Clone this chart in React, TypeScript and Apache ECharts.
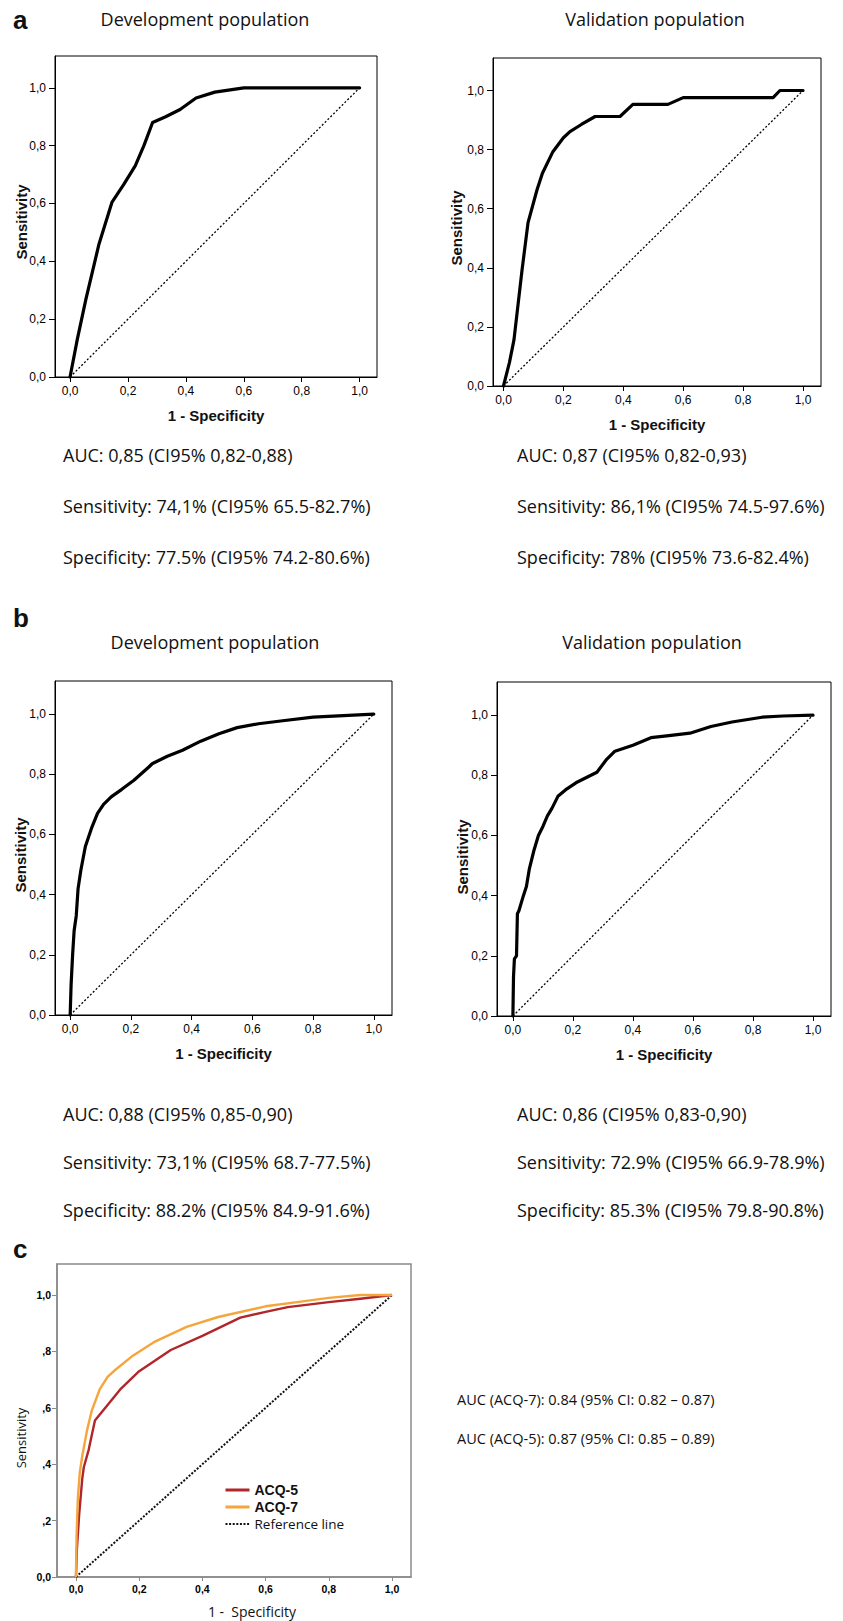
import React, { useEffect, useRef } from "react";
import * as echarts from "echarts";

// ---------- tick values / labels ----------
const TICKS = [0, 0.2, 0.4, 0.6, 0.8, 1.0];
const TICK_LABELS = ["0,0", "0,2", "0,4", "0,6", "0,8", "1,0"];
const C_Y_TICK_LABELS = ["0,0", ",2", ",4", ",6", ",8", "1,0"];

// ---------- reference diagonal ----------
const DIAG_X = [0, 1];
const DIAG_Y = [0, 1];

// ---------- panel a ----------
const A_DEV_X = [0, 0.025, 0.055, 0.1, 0.145, 0.185, 0.225, 0.255, 0.285, 0.33, 0.38, 0.435, 0.5, 0.6, 1.0];
const A_DEV_Y = [0, 0.13, 0.27, 0.46, 0.605, 0.665, 0.73, 0.8, 0.88, 0.9, 0.925, 0.965, 0.985, 1.0, 1.0];

const A_VAL_X = [0, 0.02, 0.035, 0.062, 0.082, 0.112, 0.13, 0.165, 0.2, 0.222, 0.26, 0.306, 0.389, 0.432, 0.549, 0.6, 0.9, 0.923, 1.0];
const A_VAL_Y = [0, 0.08, 0.156, 0.393, 0.553, 0.664, 0.72, 0.793, 0.84, 0.861, 0.885, 0.912, 0.912, 0.953, 0.953, 0.976, 0.976, 1.0, 1.0];

// ---------- panel b ----------
const B_DEV_X = [0, 0.003, 0.008, 0.013, 0.02, 0.026, 0.035, 0.05, 0.07, 0.09, 0.11, 0.135, 0.17, 0.21, 0.26, 0.27, 0.32, 0.37, 0.43, 0.49, 0.55, 0.62, 0.7, 0.8, 0.9, 1.0];
const B_DEV_Y = [0, 0.1, 0.2, 0.28, 0.33, 0.42, 0.48, 0.56, 0.62, 0.67, 0.7, 0.725, 0.75, 0.78, 0.825, 0.835, 0.86, 0.88, 0.91, 0.935, 0.955, 0.968, 0.978, 0.99, 0.995, 1.0];

const B_VAL_X = [0, 0.002, 0.005, 0.012, 0.015, 0.02, 0.035, 0.045, 0.055, 0.07, 0.085, 0.1, 0.115, 0.13, 0.15, 0.18, 0.21, 0.25, 0.28, 0.31, 0.34, 0.4, 0.46, 0.52, 0.59, 0.66, 0.73, 0.83, 0.9, 1.0];
const B_VAL_Y = [0, 0.13, 0.19, 0.2, 0.34, 0.35, 0.4, 0.43, 0.49, 0.55, 0.6, 0.63, 0.665, 0.69, 0.73, 0.755, 0.775, 0.795, 0.81, 0.85, 0.88, 0.9, 0.925, 0.932, 0.94, 0.962, 0.977, 0.993, 0.997, 1.0];

// ---------- panel c ----------
const C_ACQ5_X = [0, 0.003, 0.01, 0.02, 0.025, 0.04, 0.06, 0.1, 0.14, 0.2, 0.3, 0.4, 0.52, 0.6, 0.67, 0.8, 0.9, 1.0];
const C_ACQ5_Y = [0, 0.1, 0.22, 0.35, 0.39, 0.45, 0.555, 0.61, 0.665, 0.73, 0.805, 0.855, 0.92, 0.94, 0.957, 0.975, 0.987, 1.0];

const C_ACQ7_X = [0, 0.002, 0.006, 0.012, 0.02, 0.035, 0.05, 0.075, 0.1, 0.125, 0.18, 0.25, 0.35, 0.45, 0.6, 0.7, 0.8, 0.9, 1.0];
const C_ACQ7_Y = [0, 0.15, 0.28, 0.37, 0.43, 0.52, 0.59, 0.665, 0.71, 0.735, 0.785, 0.835, 0.887, 0.922, 0.96, 0.975, 0.99, 1.0, 1.0];

// ---------- texts ----------
const PANEL_LETTERS = ["a", "b", "c"];
const TITLES = ["Development population", "Validation population", "Development population", "Validation population"];
const STATS = [
  ["AUC: 0,85 (CI95% 0,82-0,88)", "Sensitivity: 74,1% (CI95% 65.5-82.7%)", "Specificity: 77.5% (CI95% 74.2-80.6%)"],
  ["AUC: 0,87 (CI95% 0,82-0,93)", "Sensitivity: 86,1% (CI95% 74.5-97.6%)", "Specificity: 78% (CI95% 73.6-82.4%)"],
  ["AUC: 0,88 (CI95% 0,85-0,90)", "Sensitivity: 73,1% (CI95% 68.7-77.5%)", "Specificity: 88.2% (CI95% 84.9-91.6%)"],
  ["AUC: 0,86 (CI95% 0,83-0,90)", "Sensitivity: 72.9% (CI95% 66.9-78.9%)", "Specificity: 85.3% (CI95% 79.8-90.8%)"],
];
const C_STATS = ["AUC (ACQ-7): 0.84 (95% CI: 0.82 \u2013 0.87)", "AUC (ACQ-5): 0.87 (95% CI: 0.85 \u2013 0.89)"];
const SERIES_NAMES = ["ACQ-5", "ACQ-7", "Reference line"];
const C_COLORS = ["#b0262a", "#f5a53c"];

const ARIAL = "'Liberation Sans', Arial, sans-serif";
const CALIBRI = "'Open Sans', 'Noto Sans', sans-serif";

const pairs = (xs: number[], ys: number[]) => xs.map((x, i) => [x, ys[i]]);
const labelFn = (labels: string[]) => (v: number) => {
  const i = TICKS.findIndex((t) => Math.abs(t - v) < 1e-6);
  return i >= 0 ? labels[i] : "";
};

// layout of plot boxes (pixels) and x-axis minimum of each box
const BOXES = [
  { left: 55, top: 56, w: 322, h: 321, xMin: -0.052 },
  { left: 493, top: 58, w: 328, h: 328, xMin: -0.035 },
  { left: 55, top: 681, w: 337, h: 334, xMin: -0.05 },
  { left: 497, top: 682, w: 334, h: 334, xMin: -0.053 },
  { left: 57, top: 1264, w: 354, h: 313, xMin: -0.06 },
];

export default function App() {
  const ref = useRef<HTMLDivElement>(null);

  useEffect(() => {
    const chart = echarts.init(ref.current!, null, { renderer: "svg" });

    const grids = BOXES.map((b, i) => ({
      left: b.left,
      top: b.top,
      width: b.w,
      height: b.h,
      show: true,
      borderColor: i === 4 ? "#8a8a8a" : "#000",
      borderWidth: i === 4 ? 1.5 : 1,
      backgroundColor: "transparent",
      containLabel: false,
      outerBoundsMode: "none",
    }));

    const xAxes = BOXES.map((b, i) => {
      const isC = i === 4;
      const col = isC ? "#8a8a8a" : "#000";
      return {
        type: "value",
        gridIndex: i,
        min: b.xMin,
        max: 1.06,
        axisLine: { show: true, onZero: false, lineStyle: { color: col, width: isC ? 1.5 : 1 } },
        axisTick: { show: true, customValues: TICKS, length: isC ? 4 : 5, inside: false, lineStyle: { color: col, width: 1 } },
        axisLabel: {
          show: true,
          customValues: TICKS,
          formatter: labelFn(TICK_LABELS),
          margin: isC ? 6 : 8,
          fontSize: isC ? 10.5 : 12,
          fontWeight: isC ? "bold" : "normal",
          fontFamily: ARIAL,
          color: "#000",
        },
        splitLine: { show: false },
      };
    });

    const yAxes = BOXES.map((_, i) => {
      const isC = i === 4;
      const col = isC ? "#8a8a8a" : "#000";
      return {
        type: "value",
        gridIndex: i,
        min: 0,
        max: 1.11,
        axisLine: { show: true, onZero: false, lineStyle: { color: col, width: isC ? 1.5 : 1 } },
        axisTick: { show: true, customValues: TICKS, length: isC ? 5 : 6, inside: false, lineStyle: { color: col, width: 1 } },
        axisLabel: {
          show: true,
          customValues: TICKS,
          formatter: labelFn(isC ? C_Y_TICK_LABELS : TICK_LABELS),
          margin: isC ? 6 : 9,
          fontSize: isC ? 10.5 : 12,
          fontWeight: isC ? "bold" : "normal",
          fontFamily: ARIAL,
          color: "#000",
        },
        splitLine: { show: false },
      };
    });

    const blackCurves = [
      pairs(A_DEV_X, A_DEV_Y),
      pairs(A_VAL_X, A_VAL_Y),
      pairs(B_DEV_X, B_DEV_Y),
      pairs(B_VAL_X, B_VAL_Y),
    ];

    const series: any[] = [];
    blackCurves.forEach((d, i) => {
      series.push({
        type: "line",
        name: "diag" + i,
        xAxisIndex: i,
        yAxisIndex: i,
        data: pairs(DIAG_X, DIAG_Y),
        symbol: "none",
        lineStyle: { color: "#000", width: 1.3, type: [2, 2] },
        silent: true,
      });
      series.push({
        type: "line",
        name: "roc" + i,
        xAxisIndex: i,
        yAxisIndex: i,
        data: d,
        symbol: "none",
        clip: false,
        lineStyle: { color: "#000", width: 3.2, cap: "round", join: "round" },
        silent: true,
      });
    });
    series.push({
      type: "line",
      name: SERIES_NAMES[2],
      xAxisIndex: 4,
      yAxisIndex: 4,
      data: pairs(DIAG_X, DIAG_Y),
      symbol: "none",
      itemStyle: { color: "#111" },
      lineStyle: { color: "#111", width: 2, type: [2, 1.6] },
      silent: true,
    });
    series.push({
      type: "line",
      name: SERIES_NAMES[0],
      xAxisIndex: 4,
      yAxisIndex: 4,
      data: pairs(C_ACQ5_X, C_ACQ5_Y),
      symbol: "none",
      itemStyle: { color: C_COLORS[0] },
      lineStyle: { color: C_COLORS[0], width: 2.4, join: "round" },
      silent: true,
    });
    series.push({
      type: "line",
      name: SERIES_NAMES[1],
      xAxisIndex: 4,
      yAxisIndex: 4,
      data: pairs(C_ACQ7_X, C_ACQ7_Y),
      symbol: "none",
      itemStyle: { color: C_COLORS[1] },
      lineStyle: { color: C_COLORS[1], width: 2.4, join: "round" },
      silent: true,
    });

    const txt = (x: number, y: number, text: string, font: any, extra: any = {}) => ({
      type: "text",
      x,
      y,
      silent: true,
      ...extra,
      style: {
        text,
        fill: "#111",
        align: "left",
        verticalAlign: "middle",
        ...font,
      },
    });

    const letterFont = { fontFamily: ARIAL, fontWeight: "bold", fontSize: 26 };
    const titleFont = { fontFamily: CALIBRI, fontSize: 18, align: "center" };
    const statFont = { fontFamily: CALIBRI, fontSize: 18 };
    const axTitleFont = { fontFamily: ARIAL, fontWeight: "bold", fontSize: 15, align: "center" };

    const graphics: any[] = [];
    graphics.push(txt(13, 20, PANEL_LETTERS[0], letterFont));
    graphics.push(txt(13, 618, PANEL_LETTERS[1], letterFont));
    graphics.push(txt(13, 1249, PANEL_LETTERS[2], letterFont));

    const titleY = [19, 19, 642, 642];
    const titleX = [205, 655, 215, 652];
    TITLES.forEach((t, i) => graphics.push(txt(titleX[i], titleY[i], t, titleFont)));

    // axis titles for black panels
    const yTitleX = [21, 456, 20, 462];
    const yTitleY = [222, 228, 855, 857];
    for (let i = 0; i < 4; i++) {
      const b = BOXES[i];
      graphics.push(txt(b.left + b.w / 2, b.top + b.h + 38, "1 - Specificity", axTitleFont));
      graphics.push(
        txt(yTitleX[i], yTitleY[i], "Sensitivity", axTitleFont, { rotation: Math.PI / 2 })
      );
    }

    // stats
    const statX = [63, 517, 63, 517];
    const statY = [
      [455, 506, 557],
      [455, 506, 557],
      [1114, 1162, 1210],
      [1114, 1162, 1210],
    ];
    STATS.forEach((lines, i) =>
      lines.forEach((l, j) => graphics.push(txt(statX[i], statY[i][j], l, statFont)))
    );

    // panel c texts
    graphics.push(txt(252, 1611, "1 -  Specificity", { fontFamily: CALIBRI, fontSize: 14, align: "center" }));
    graphics.push(
      txt(21, 1438, "Sensitivity", { fontFamily: CALIBRI, fontSize: 13, align: "center" }, { rotation: Math.PI / 2 })
    );
    graphics.push(txt(457, 1399, C_STATS[0], { fontFamily: CALIBRI, fontSize: 14.5 }));
    graphics.push(txt(457, 1438, C_STATS[1], { fontFamily: CALIBRI, fontSize: 14.5 }));

    const option: any = {
      animation: false,
      backgroundColor: "#fff",
      grid: grids,
      xAxis: xAxes,
      yAxis: yAxes,
      series,
      legend: {
        orient: "vertical",
        left: 219,
        top: 1478,
        itemWidth: 24,
        itemHeight: 12,
        itemGap: 3,
        selectedMode: false,
        itemStyle: { opacity: 0 },
        textStyle: { color: "#111", fontFamily: ARIAL, fontSize: 14 },
        data: [
          { name: SERIES_NAMES[0], lineStyle: { width: 3 }, textStyle: { fontWeight: "bold", fontFamily: ARIAL, fontSize: 14 } },
          { name: SERIES_NAMES[1], lineStyle: { width: 3 }, textStyle: { fontWeight: "bold", fontFamily: ARIAL, fontSize: 14 } },
          { name: SERIES_NAMES[2], lineStyle: { width: 2 }, textStyle: { fontWeight: "normal", fontFamily: CALIBRI, fontSize: 13.5 } },
        ],
      },
      graphic: { elements: graphics },
    };

    chart.setOption(option);
    return () => chart.dispose();
  }, []);

  return (
    <div
      ref={ref}
      style={{ position: "absolute", left: 0, top: 0, width: 843, height: 1621, background: "#fff" }}
    />
  );
}
